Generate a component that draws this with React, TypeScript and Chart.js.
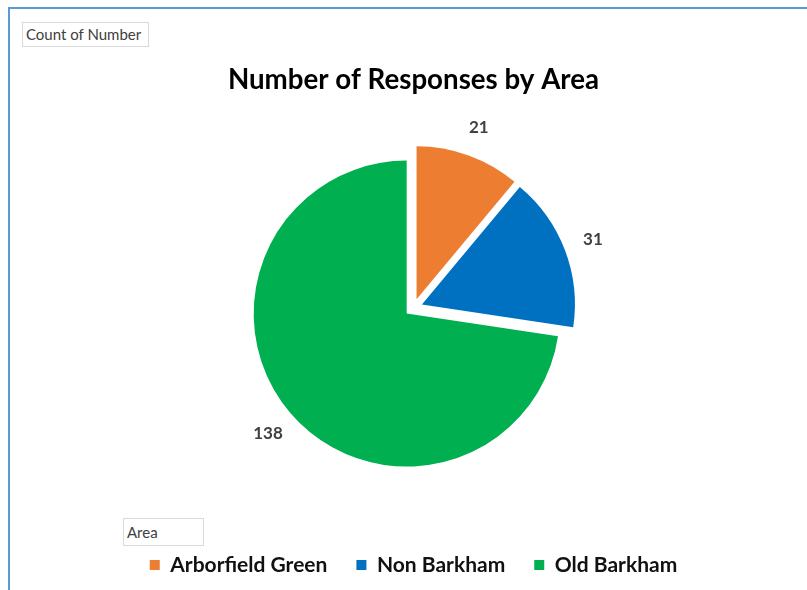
import React, { useEffect, useRef } from "react";
import { Chart, registerables } from "chart.js";

Chart.register(...registerables);

const categories = ["Arborfield Green", "Non Barkham", "Old Barkham"];
const counts = [21, 31, 138];
const sliceColors = ["#ED7D31", "#0070C0", "#00B050"];
const chartTitle = "Number of Responses by Area";
const valueFieldLabel = "Count of Number";
const axisFieldLabel = "Area";

const FONT = "Lato, 'Open Sans', sans-serif";
const EXPLODE_PX = 9;
const LABEL_GAP = 30;

// Moves every slice outward along its bisector (Excel-style "exploded" pie)
const explodeSlices = {
  id: "explodeSlices",
  beforeDatasetDraw(chart: any, args: any) {
    const meta = chart.getDatasetMeta(args.index);
    meta.data.forEach((el: any) => {
      if (el.__exploded) return;
      const orig = el.draw.bind(el);
      el.draw = (ctx: CanvasRenderingContext2D, area: any) => {
        const half = (el.startAngle + el.endAngle) / 2;
        ctx.save();
        ctx.translate(Math.cos(half) * EXPLODE_PX, Math.sin(half) * EXPLODE_PX);
        orig(ctx, area);
        ctx.restore();
      };
      el.__exploded = true;
    });
  },
};

const outsideLabels = {
  id: "outsideLabels",
  afterDatasetsDraw(chart: any) {
    const ctx = chart.ctx;
    const meta = chart.getDatasetMeta(0);
    const data = chart.data.datasets[0].data;
    ctx.save();
    ctx.font = `bold 17px ${FONT}`;
    ctx.fillStyle = "#404040";
    ctx.textAlign = "center";
    ctx.textBaseline = "middle";
    meta.data.forEach((arc: any, i: number) => {
      const p = arc.getProps(["x", "y", "startAngle", "endAngle", "outerRadius"], true);
      const mid = (p.startAngle + p.endAngle) / 2;
      const r = p.outerRadius + EXPLODE_PX + LABEL_GAP;
      ctx.fillText(String(data[i]), p.x + Math.cos(mid) * r, p.y + Math.sin(mid) * r);
    });
    ctx.restore();
  },
};

export default function App() {
  const ref = useRef<HTMLCanvasElement>(null);
  useEffect(() => {
    if (!ref.current) return;
    const chart = new Chart(ref.current, {
      type: "pie",
      data: {
        labels: categories,
        datasets: [
          {
            data: counts,
            backgroundColor: sliceColors,
            borderWidth: 0,
          },
        ],
      },
      options: {
        responsive: false,
        animation: false,
        radius: 153,
        layout: { padding: { left: 20, right: 0, top: 0, bottom: 4.5 } },
        plugins: {
          tooltip: { enabled: false },
          title: {
            display: true,
            text: chartTitle,
            color: "#000000",
            font: { family: FONT, size: 27.7, weight: "bold" },
            padding: { top: 63.8, bottom: 8.6 },
          },
          legend: {
            display: true,
            position: "bottom",
            title: { display: true, text: "", font: { size: 10 }, padding: { top: 0, bottom: 3.7 } },
            labels: {
              boxWidth: 10,
              boxHeight: 10,
              padding: 29,
              color: "#111111",
              font: { family: FONT, size: 21, weight: "bold" },
            },
          },
        },
      } as any,
      plugins: [explodeSlices, outsideLabels],
    });
    return () => chart.destroy();
  }, []);

  const boxStyle: React.CSSProperties = {
    position: "absolute",
    border: "1px solid #d9d9d9",
    fontFamily: FONT,
    color: "#404040",
    boxSizing: "border-box",
    paddingLeft: 3,
    background: "#fff",
    whiteSpace: "nowrap",
  };

  return (
    <div style={{ position: "fixed", left: 0, top: 0, width: 807, height: 590, background: "#fff", overflow: "hidden" }}>
      <canvas ref={ref} width={807} height={590} style={{ position: "absolute", left: 0, top: 0 }} />
      <div style={{ position: "absolute", left: 8, top: 7, width: 820, height: 600, borderTop: "2px solid #5B9BD5", borderLeft: "2px solid #5B9BD5", pointerEvents: "none" }} />
      <div style={{ ...boxStyle, left: 22, top: 22, width: 127, height: 25, fontSize: 15, lineHeight: "23px" }}>{valueFieldLabel}</div>
      <div style={{ ...boxStyle, left: 123, top: 518, width: 81, height: 28, fontSize: 15, lineHeight: "26px" }}>{axisFieldLabel}</div>
    </div>
  );
}
